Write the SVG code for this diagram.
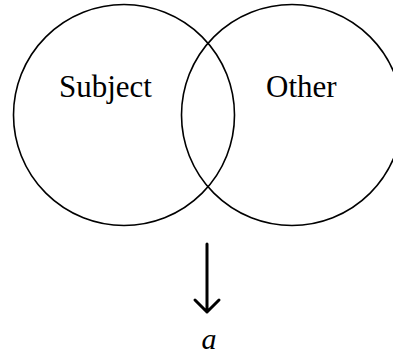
<svg xmlns="http://www.w3.org/2000/svg" width="393" height="358" viewBox="0 0 393 358">
<style>
.c{fill:none;stroke:#000;stroke-width:1.6}
.t{font-family:"Liberation Serif","Times New Roman",serif;font-size:31px;fill:#000}
.i{font-style:italic;font-size:30px}
.a{fill:none;stroke:#000;stroke-width:3;stroke-linecap:round;stroke-linejoin:round}
</style>
<rect width="393" height="358" fill="#fff"/>
<g id="subject">
<circle class="c" cx="124" cy="115" r="110.5"/>
<text class="t" x="59" y="97">Subject</text>
</g>
<g id="other">
<circle class="c" cx="292" cy="115" r="110.5"/>
<text class="t" x="266" y="97">Other</text>
</g>
<g id="connectors">
<path class="a" d="M207 244 V312 M195 300 L207 312 L219 300"/>
</g>
<g id="result">
<text class="t i" x="209" y="349" text-anchor="middle">a</text>
</g>
</svg>
